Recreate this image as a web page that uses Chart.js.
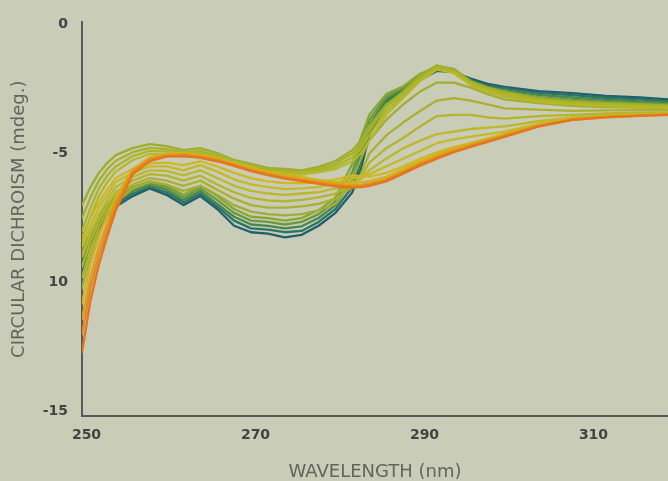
<!DOCTYPE html>
<html>
<head>
<meta charset="utf-8">
<script src="https://cdn.jsdelivr.net/npm/chart.js@4.4.0/dist/chart.umd.min.js"></script>
<style>
  html, body { margin: 0; padding: 0; background: #c9ccb6; }
  #wrap { width: 668px; height: 481px; position: relative; }
  canvas { display: block; }
</style>
</head>
<body>
<div id="wrap"><canvas id="c" width="668" height="481"></canvas></div>
<script>
// ---- data ----
const wavelengths = [250,251,252,253,254,256,258,260,262,264,266,268,270,272,274,276,278,280,282,283,284,286,288,290,292,294,296,298,300,304,308,312,316,320];

const xTickValues = [250, 270, 290, 310];
const yTickValues = [0, -5, -10, -15];
const yTickLabels = ['0', '-5', '10', '-15'];
const xTitle = 'WAVELENGTH (nm)';
const yTitle = 'CIRCULAR DICHROISM (mdeg.)';

// teal -> green family (low at 270 nm, high peak at 292 nm)
const spectrumA0 = [-9.6,-8.6,-7.9,-7.4,-7.05,-6.65,-6.35,-6.6,-7.0,-6.65,-7.15,-7.8,-8.05,-8.1,-8.25,-8.15,-7.8,-7.3,-6.5,-5.6,-4.3,-3.1,-2.65,-2.15,-1.8,-1.85,-2.1,-2.3,-2.42,-2.58,-2.66,-2.77,-2.83,-2.92];
const spectrumA1 = [-9.4,-8.5,-7.8,-7.3,-6.95,-6.55,-6.3,-6.5,-6.9,-6.55,-7.05,-7.6,-7.9,-7.95,-8.05,-8.0,-7.65,-7.15,-6.3,-5.3,-4.1,-3.0,-2.55,-2.05,-1.75,-1.8,-2.15,-2.38,-2.47,-2.65,-2.74,-2.84,-2.9,-2.98];
const spectrumA2 = [-9.2,-8.35,-7.7,-7.2,-6.85,-6.45,-6.22,-6.4,-6.8,-6.45,-6.95,-7.45,-7.75,-7.8,-7.9,-7.82,-7.5,-7.0,-6.0,-5.0,-3.9,-2.9,-2.5,-2.0,-1.7,-1.77,-2.18,-2.42,-2.55,-2.73,-2.83,-2.92,-2.98,-3.05];
const spectrumA3 = [-9.0,-8.2,-7.55,-7.05,-6.75,-6.38,-6.15,-6.3,-6.7,-6.35,-6.8,-7.3,-7.6,-7.65,-7.75,-7.65,-7.35,-6.85,-5.7,-4.7,-3.7,-2.8,-2.45,-1.95,-1.66,-1.74,-2.2,-2.45,-2.62,-2.82,-2.92,-3.0,-3.05,-3.1];
const spectrumA4 = [-8.8,-8.05,-7.4,-6.95,-6.65,-6.3,-6.08,-6.22,-6.6,-6.25,-6.65,-7.15,-7.45,-7.5,-7.6,-7.5,-7.2,-6.7,-5.4,-4.4,-3.5,-2.7,-2.4,-1.92,-1.62,-1.72,-2.22,-2.5,-2.72,-2.92,-3.02,-3.08,-3.12,-3.16];

// sparse intermediate yellow-green spectra
const spectrumC0 = [-10.2,-9.0,-8.1,-7.4,-6.9,-6.35,-6.1,-6.2,-6.45,-6.25,-6.6,-7.0,-7.25,-7.35,-7.4,-7.35,-7.2,-6.95,-6.0,-5.2,-4.5,-3.7,-3.1,-2.6,-2.25,-2.25,-2.45,-2.7,-2.9,-3.05,-3.15,-3.2,-3.22,-3.25];
const spectrumC1 = [-9.8,-8.7,-7.85,-7.2,-6.7,-6.2,-5.95,-6.05,-6.25,-6.05,-6.4,-6.75,-7.0,-7.1,-7.1,-7.05,-6.95,-6.75,-6.3,-5.8,-5.0,-4.3,-3.8,-3.35,-2.95,-2.85,-2.95,-3.1,-3.25,-3.3,-3.35,-3.33,-3.32,-3.32];
const spectrumC2 = [-9.4,-8.4,-7.6,-7.0,-6.5,-6.05,-5.8,-5.86,-6.05,-5.86,-6.2,-6.5,-6.72,-6.82,-6.85,-6.8,-6.7,-6.55,-6.2,-5.95,-5.35,-4.8,-4.4,-3.95,-3.55,-3.5,-3.5,-3.6,-3.65,-3.55,-3.5,-3.45,-3.42,-3.4];
const spectrumC3 = [-9.0,-8.1,-7.35,-6.8,-6.3,-5.9,-5.65,-5.67,-5.85,-5.65,-5.95,-6.25,-6.45,-6.55,-6.6,-6.55,-6.5,-6.35,-6.1,-6.0,-5.65,-5.2,-4.8,-4.5,-4.25,-4.15,-4.05,-4.0,-3.95,-3.75,-3.6,-3.52,-3.47,-3.44];
const spectrumC4 = [-8.6,-7.8,-7.1,-6.6,-6.1,-5.75,-5.5,-5.5,-5.65,-5.45,-5.7,-6.0,-6.2,-6.3,-6.38,-6.35,-6.3,-6.15,-5.95,-5.95,-5.8,-5.5,-5.2,-4.9,-4.6,-4.45,-4.35,-4.25,-4.15,-3.85,-3.65,-3.55,-3.5,-3.47];
const spectrumC5 = [-8.25,-7.5,-6.9,-6.4,-5.95,-5.6,-5.38,-5.35,-5.45,-5.3,-5.5,-5.75,-5.95,-6.08,-6.15,-6.15,-6.12,-6.0,-5.85,-5.88,-5.9,-5.75,-5.5,-5.2,-4.95,-4.75,-4.6,-4.45,-4.3,-3.9,-3.68,-3.58,-3.52,-3.49];

// upper yellow-green band (top at 258 nm, top at 292 nm)
const spectrumB0 = [-7.0,-6.3,-5.75,-5.36,-5.06,-4.79,-4.64,-4.71,-4.87,-4.79,-4.98,-5.25,-5.4,-5.56,-5.6,-5.65,-5.52,-5.29,-4.87,-4.5,-3.95,-3.1,-2.6,-2.0,-1.58,-1.75,-2.2,-2.45,-2.6,-2.85,-2.98,-3.05,-3.1,-3.14];
const spectrumB1 = [-7.5,-6.7,-6.05,-5.6,-5.28,-4.95,-4.78,-4.83,-4.97,-4.9,-5.08,-5.35,-5.5,-5.63,-5.67,-5.7,-5.6,-5.4,-5.0,-4.65,-4.1,-3.2,-2.65,-2.05,-1.62,-1.78,-2.25,-2.5,-2.65,-2.9,-3.02,-3.08,-3.13,-3.17];
const spectrumB2 = [-8.0,-7.1,-6.35,-5.85,-5.5,-5.1,-4.9,-4.93,-5.05,-4.98,-5.15,-5.42,-5.58,-5.7,-5.74,-5.76,-5.66,-5.5,-5.15,-4.8,-4.3,-3.35,-2.75,-2.12,-1.68,-1.82,-2.3,-2.55,-2.72,-2.95,-3.06,-3.12,-3.16,-3.2];
const spectrumB3 = [-8.4,-7.45,-6.65,-6.1,-5.7,-5.25,-5.02,-5.03,-5.12,-5.06,-5.22,-5.48,-5.65,-5.77,-5.8,-5.82,-5.72,-5.6,-5.3,-5.0,-4.5,-3.5,-2.85,-2.2,-1.75,-1.88,-2.35,-2.6,-2.8,-3.0,-3.1,-3.16,-3.2,-3.24];

// yellow -> orange final spectra
const spectrumD0 = [-10.8,-9.3,-8.2,-7.4,-6.7,-5.6,-5.15,-5.0,-4.98,-5.05,-5.18,-5.36,-5.55,-5.7,-5.82,-5.92,-6.02,-6.1,-6.15,-6.12,-6.07,-5.9,-5.6,-5.3,-5.04,-4.8,-4.6,-4.42,-4.24,-3.88,-3.66,-3.55,-3.5,-3.47];
const spectrumD1 = [-11.4,-9.8,-8.6,-7.7,-6.9,-5.68,-5.22,-5.05,-5.03,-5.1,-5.23,-5.42,-5.61,-5.77,-5.9,-6.0,-6.1,-6.19,-6.24,-6.22,-6.16,-5.99,-5.69,-5.38,-5.12,-4.88,-4.67,-4.49,-4.3,-3.92,-3.68,-3.57,-3.52,-3.48];
const spectrumD2 = [-12.0,-10.2,-8.95,-7.95,-7.05,-5.74,-5.26,-5.09,-5.07,-5.14,-5.27,-5.45,-5.65,-5.81,-5.94,-6.04,-6.15,-6.24,-6.29,-6.27,-6.21,-6.04,-5.74,-5.43,-5.16,-4.92,-4.71,-4.52,-4.33,-3.94,-3.7,-3.59,-3.53,-3.49];
const spectrumD3 = [-12.7,-10.7,-9.3,-8.2,-7.2,-5.8,-5.3,-5.12,-5.1,-5.17,-5.3,-5.48,-5.68,-5.84,-5.97,-6.07,-6.18,-6.27,-6.32,-6.3,-6.25,-6.08,-5.78,-5.47,-5.2,-4.95,-4.74,-4.55,-4.36,-3.96,-3.7,-3.6,-3.54,-3.5];

// ---- styling (drawing order: bottom -> top) ----
const seriesList = [
  [spectrumA0, '#1e5f6f'], [spectrumA1, '#2b7363'], [spectrumA2, '#488750'], [spectrumA3, '#6a9a3e'], [spectrumA4, '#87a734'],
  [spectrumC0, '#a2ad34'], [spectrumC1, '#aab131'], [spectrumC2, '#b3b52e'], [spectrumC3, '#bcb82b'], [spectrumC4, '#c5b928'], [spectrumC5, '#ccb925'],
  [spectrumB0, '#9caf2c'], [spectrumB1, '#a5b22a'], [spectrumB2, '#aeb528'], [spectrumB3, '#b6b826'],
  [spectrumD0, '#d2b21e'], [spectrumD1, '#dc9e1c'], [spectrumD2, '#e2881e'], [spectrumD3, '#e6741e']
];

const datasets = seriesList.map(([vals, color]) => ({
  data: wavelengths.map((w, i) => ({ x: w, y: vals[i] })),
  borderColor: color,
  borderWidth: 2.3,
  pointRadius: 0,
  tension: 0,
  fill: false,
  borderJoinStyle: 'round',
  borderCapStyle: 'round'
})).reverse(); // Chart.js paints dataset 0 last (on top)

const bgPlugin = {
  id: 'bg',
  beforeDraw(chart) {
    const c = chart.ctx;
    c.save();
    c.fillStyle = '#c9ccb6';
    c.fillRect(0, 0, chart.width, chart.height);
    c.restore();
  }
};

new Chart(document.getElementById('c').getContext('2d'), {
  type: 'line',
  data: { datasets },
  plugins: [bgPlugin],
  options: {
    responsive: false,
    animation: false,
    devicePixelRatio: 1,
    layout: { padding: { top: 18, right: 0, left: 0, bottom: 0 } },
    plugins: { legend: { display: false }, tooltip: { enabled: false } },
    scales: {
      x: {
        type: 'linear',
        min: 250,
        max: 319.35,
        afterBuildTicks: s => { s.ticks = xTickValues.map(v => ({ value: v })); },
        afterFit: s => { s.height = 65; },
        grid: { display: false, drawTicks: false },
        border: { display: true, color: '#58595a', width: 2 },
        ticks: {
          padding: 11,
          labelOffset: 4.5,
          color: '#434343',
          font: { family: 'DejaVu Sans', size: 14, weight: 'bold' },
          callback: v => String(v)
        },
        title: {
          display: true,
          text: xTitle,
          color: '#62645e',
          font: { family: 'DejaVu Sans', size: 18, weight: 'normal', lineHeight: 1 },
          padding: { top: 0, bottom: 0 }
        }
      },
      y: {
        type: 'linear',
        min: -15.17,
        max: 0.08,
        afterBuildTicks: s => { s.ticks = yTickValues.map(v => ({ value: v })); },
        afterFit: s => { s.width = 82; },
        grid: { display: false, drawTicks: false },
        border: { display: true, color: '#58595a', width: 2 },
        ticks: {
          padding: 14,
          color: '#434343',
          font: { family: 'DejaVu Sans', size: 14, weight: 'bold' },
          callback: v => yTickLabels[yTickValues.indexOf(v)]
        },
        title: {
          display: true,
          text: yTitle,
          color: '#62645e',
          font: { family: 'DejaVu Sans', size: 18, weight: 'normal', lineHeight: 1 },
          padding: { top: 10, bottom: 0 }
        }
      }
    }
  }
});
</script>
</body>
</html>
